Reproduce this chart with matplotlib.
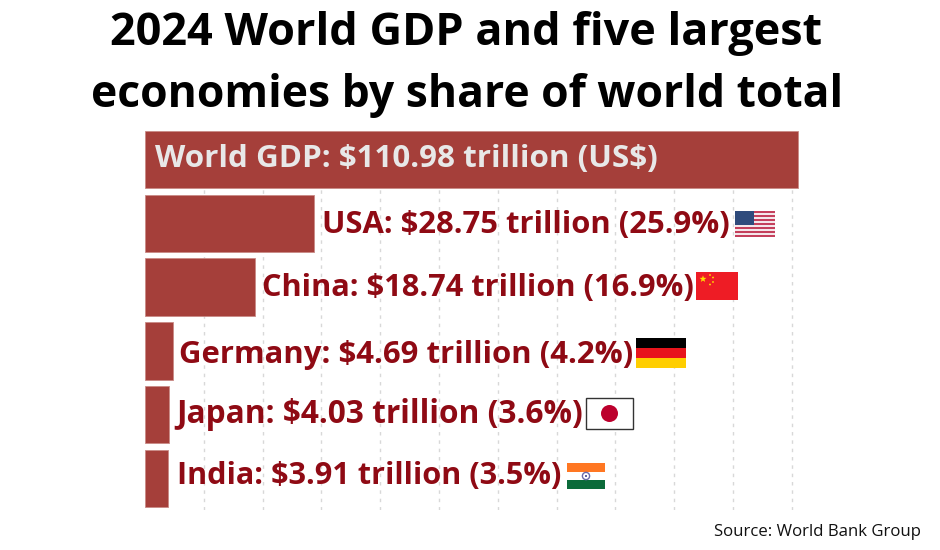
import matplotlib
matplotlib.use("Agg")
import matplotlib.pyplot as plt
import numpy as np
from matplotlib.patches import Rectangle, Circle, Polygon
from matplotlib.transforms import Affine2D

countries = ["World GDP", "USA", "China", "Germany", "Japan", "India"]
gdp = [110.98, 28.75, 18.74, 4.69, 4.03, 3.91]
shares = [None, "25.9%", "16.9%", "4.2%", "3.6%", "3.5%"]
grid_ticks = [10, 20, 30, 40, 50, 60, 70, 80, 90, 100, 110]

W = 940
H = 550
BAR_COLOR = "#a53f3a"
TEXT_COLOR = "#8f0a14"


def flag_usa(add, x, y, w, h):
    for i in range(13):
        c = "#c4405c" if i % 2 == 0 else "#f4e6ea"
        add(Rectangle((x, y + i * h / 13), w, h / 13, fc=c, lw=0))
    add(Rectangle((x, y), w * 0.48, h * 0.54, fc="#2f4b7c", lw=0))


def flag_china(add, x, y, w, h):
    add(Rectangle((x, y), w, h, fc="#ee1c25", lw=0))
    pts = []
    for k in range(10):
        r = 3.6 if k % 2 == 0 else 1.5
        a = -np.pi / 2 + k * np.pi / 5
        pts.append((x + 7 + r * np.cos(a), y + 7 + r * np.sin(a)))
    add(Polygon(pts, fc="#ffde00", lw=0))
    for dx, dy in [(14, 3), (17, 5.5), (17, 10), (14, 12.5)]:
        add(Circle((x + dx, y + dy), 0.9, fc="#ffde00", lw=0))


def flag_germany(add, x, y, w, h):
    for i, c in enumerate(["#000000", "#e8141c", "#ffce00"]):
        add(Rectangle((x, y + i * h / 3), w, h / 3, fc=c, lw=0))


def flag_japan(add, x, y, w, h):
    add(Rectangle((x, y), w, h, fc="white", ec="#333333", lw=1))
    add(Circle((x + w / 2, y + h / 2), 8.5, fc="#bc002d", lw=0))


def flag_india(add, x, y, w, h):
    for i, c in enumerate(["#ff7722", "#ffffff", "#0b6b3a"]):
        add(Rectangle((x, y + i * h / 3), w, h / 3, fc=c, lw=0))
    add(Circle((x + w / 2, y + h / 2), 3.6, fc="none", ec="#6a6aa8", lw=1))
    add(Circle((x + w / 2, y + h / 2), 1, fc="#3a3a88", lw=0))


# pixel boxes for the flags, x y w h from top left
flags = [
    (flag_usa, 735, 211, 40, 26),
    (flag_china, 696, 272, 42, 28),
    (flag_germany, 636, 338, 50, 30),
    (flag_japan, 586, 398, 47, 31),
    (flag_india, 567, 463, 38, 26),
]
# label nudges in px, the labels dont sit exactly on the bar centres
label_dx = [10, 8, 6.5, 6.5, 7.5, 9.5]
label_dy = [4, 2, 3, -1, 4, 6]
label_sizes = [22.6, 22.3, 22.15, 22.45, 22.75, 22.1]

fig = plt.figure(figsize=(W / 100, H / 100), dpi=100)
plt.rcParams["font.family"] = ["Open Sans", "DejaVu Sans"]

# axes in pixels: left 145, right 800, top 130, bottom 510
ax = fig.add_axes([145 / W, 1 - 510 / H, (800 - 145) / W, 380 / H])
ax.set_xlim(0, (800 - 145) / 5.88)
step = 63.8
ax.set_ylim((510 - 159.5) / step, (130 - 159.5) / step)

y_pos = np.arange(len(countries))
ax.barh(y_pos, gdp, height=0.9, color=BAR_COLOR, edgecolor="#c98a86", linewidth=0.6, zorder=2)

ax.set_xticks(grid_ticks)
ax.set_yticks([])
ax.tick_params(length=0, labelbottom=False)
ax.grid(axis="x", color="#d8d8d8", linestyle=(0, (2.5, 3.5)), linewidth=1, zorder=0)
for s in ax.spines.values():
    s.set_visible(False)

ax.annotate(f"{countries[0]}: \\${gdp[0]:.2f} trillion (US\\$)", (0, 0),
            xytext=(label_dx[0] * 0.72, label_dy[0] * 0.72), textcoords="offset points",
            color="#e8e8e8", fontsize=label_sizes[0], fontweight="bold",
            va="center_baseline", ha="left", zorder=3)

for i in range(1, len(countries)):
    ax.annotate(f"{countries[i]}: \\${gdp[i]:.2f} trillion ({shares[i]})", (gdp[i], i),
                xytext=(label_dx[i] * 0.72, label_dy[i] * 0.72), textcoords="offset points",
                color=TEXT_COLOR, fontsize=label_sizes[i], fontweight="bold",
                va="center_baseline", ha="left", zorder=3)

px = Affine2D().scale(1 / W, -1 / H).translate(0, 1) + fig.transFigure


def add_px(patch):
    patch.set_transform(px)
    patch.set_clip_on(False)
    fig.add_artist(patch)


for draw, x, y, w, h in flags:
    draw(add_px, x, y, w, h)

fig.text(466 / W, 1 - 33 / H, "2024 World GDP and five largest", fontsize=32.4,
         fontweight="bold", color="black", ha="center", va="center")
fig.text(467 / W, 1 - 95 / H, "economies by share of world total", fontsize=32,
         fontweight="bold", color="black", ha="center", va="center")
fig.text(921 / W, 1 - 532 / H, "Source: World Bank Group", fontsize=12.1,
         color="#111111", ha="right", va="center")

fig.savefig("out.png", dpi=100)
